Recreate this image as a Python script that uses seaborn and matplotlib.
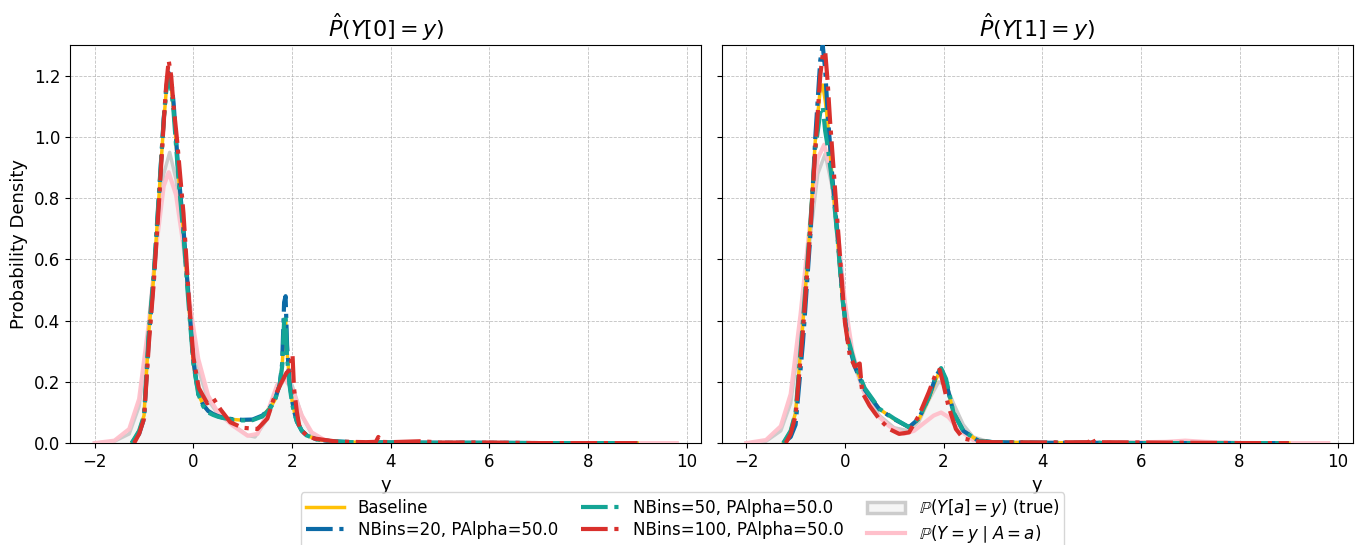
import matplotlib
matplotlib.use('Agg')
import matplotlib.pyplot as plt
from matplotlib.patches import Patch
import seaborn as sns

# ---- panel Y[0] ----
x0 = [-1.25, -1.1, -1.0, -0.9, -0.8, -0.7, -0.6, -0.55, -0.5, -0.45,
      -0.4, -0.3, -0.2, -0.1, 0.0, 0.1, 0.2, 0.3, 0.4, 0.5,
      0.6, 0.8, 1.0, 1.2, 1.4, 1.55, 1.65, 1.75, 1.8, 1.84,
      1.87, 1.9, 1.95, 2.0, 2.05, 2.1, 2.2, 2.3, 2.5, 2.8,
      3.2, 4.0, 5.0, 6.0, 7.0, 8.0, 9.0]
base0 = [0.0, 0.04, 0.09, 0.37, 0.55, 0.80, 1.05, 1.15, 1.20, 1.17,
         1.09, 0.87, 0.69, 0.47, 0.26, 0.16, 0.125, 0.105, 0.095, 0.088,
         0.083, 0.077, 0.075, 0.076, 0.088, 0.115, 0.14, 0.19, 0.25, 0.36,
         0.40, 0.30, 0.20, 0.14, 0.10, 0.07, 0.04, 0.025, 0.012, 0.006,
         0.003, 0.002, 0.001, 0.001, 0.0, 0.0, 0.0]
nb20_0 = [0.0, 0.03, 0.08, 0.35, 0.54, 0.80, 1.06, 1.16, 1.21, 1.19,
          1.11, 0.88, 0.70, 0.48, 0.27, 0.16, 0.125, 0.105, 0.095, 0.088,
          0.083, 0.078, 0.076, 0.077, 0.09, 0.115, 0.14, 0.19, 0.26, 0.46,
          0.48, 0.32, 0.20, 0.14, 0.10, 0.07, 0.04, 0.025, 0.012, 0.006,
          0.003, 0.002, 0.001, 0.001, 0.0, 0.0, 0.0]
nb50_0 = [0.0, 0.04, 0.09, 0.37, 0.56, 0.81, 1.06, 1.15, 1.19, 1.16,
          1.08, 0.86, 0.68, 0.46, 0.26, 0.16, 0.12, 0.10, 0.092, 0.086,
          0.082, 0.076, 0.074, 0.075, 0.087, 0.112, 0.138, 0.19, 0.25, 0.40,
          0.42, 0.28, 0.19, 0.13, 0.095, 0.07, 0.04, 0.025, 0.012, 0.006,
          0.003, 0.002, 0.001, 0.001, 0.0, 0.0, 0.0]
x0_nb100 = [-1.2, -1.1, -1.0, -0.9, -0.8, -0.7, -0.6, -0.55, -0.5, -0.45,
            -0.4, -0.33, -0.2, -0.09, 0.0, 0.11, 0.28, 0.41, 0.55, 0.75,
            1.0, 1.3, 1.5, 1.62, 1.76, 1.89, 1.96, 2.01, 2.04, 2.1,
            2.16, 2.3, 2.45, 2.9, 3.5, 3.7, 3.75, 3.8, 4.0, 4.6,
            5.0, 6.0, 7.0, 8.0, 9.0]
nb100_0 = [0.0, 0.03, 0.08, 0.33, 0.53, 0.78, 1.05, 1.17, 1.25, 1.20,
           1.10, 0.99, 0.75, 0.47, 0.28, 0.18, 0.13, 0.145, 0.11, 0.068,
           0.05, 0.046, 0.08, 0.14, 0.19, 0.23, 0.24, 0.29, 0.18, 0.10,
           0.046, 0.025, 0.015, 0.005, 0.003, 0.004, 0.02, 0.004, 0.003, 0.006,
           0.002, 0.002, 0.0, 0.0, 0.0]
x0_true = [-2.0, -1.6, -1.3, -1.1, -0.9, -0.75, -0.6, -0.48, -0.35, -0.2,
           -0.05, 0.1, 0.3, 0.5, 0.8, 1.1, 1.25, 1.5, 1.7, 1.85,
           2.0, 2.2, 2.4, 2.7, 3.0, 4.0, 6.0, 8.0, 9.8]
true0 = [0.0, 0.006, 0.03, 0.12, 0.38, 0.66, 0.88, 0.95, 0.86, 0.65,
         0.40, 0.24, 0.14, 0.095, 0.06, 0.025, 0.02, 0.08, 0.17, 0.21,
         0.19, 0.09, 0.03, 0.005, 0.001, 0.0, 0.0, 0.0, 0.0]
x0_cond = [-2.0, -1.6, -1.3, -1.1, -0.9, -0.75, -0.6, -0.5, -0.35, -0.2,
           -0.05, 0.1, 0.3, 0.5, 0.8, 1.1, 1.3, 1.5, 1.7, 1.85,
           2.0, 2.2, 2.4, 2.7, 3.0, 4.0, 6.0, 8.0, 9.8]
cond0 = [0.0, 0.008, 0.046, 0.144, 0.395, 0.645, 0.84, 0.885, 0.81, 0.645,
         0.43, 0.275, 0.155, 0.10, 0.057, 0.024, 0.03, 0.10, 0.19, 0.21,
         0.177, 0.09, 0.035, 0.006, 0.001, 0.0, 0.0, 0.0, 0.0]

# ---- panel Y[1] ----
x1 = [-1.25, -1.1, -1.0, -0.85, -0.7, -0.6, -0.5, -0.45, -0.4, -0.35,
      -0.25, -0.15, -0.05, 0.05, 0.2, 0.4, 0.7, 1.0, 1.3, 1.5,
      1.7, 1.85, 1.95, 2.05, 2.2, 2.4, 2.7, 3.0, 4.0, 5.0,
      6.0, 7.0, 8.0, 9.0]
base1 = [0.0, 0.04, 0.10, 0.395, 0.72, 0.99, 1.157, 1.17, 1.12, 1.05,
         0.85, 0.667, 0.47, 0.34, 0.253, 0.177, 0.111, 0.078, 0.051, 0.078,
         0.144, 0.21, 0.242, 0.2, 0.10, 0.04, 0.008, 0.003, 0.001, 0.001,
         0.0, 0.0, 0.0, 0.0]
nb20_1 = [0.0, 0.02, 0.06, 0.33, 0.68, 1.0, 1.25, 1.30, 1.22, 1.08,
          0.86, 0.68, 0.48, 0.34, 0.25, 0.175, 0.11, 0.078, 0.052, 0.08,
          0.15, 0.22, 0.245, 0.2, 0.10, 0.04, 0.008, 0.003, 0.001, 0.001,
          0.0, 0.0, 0.0, 0.0]
nb50_1 = [0.0, 0.04, 0.10, 0.40, 0.72, 0.96, 1.08, 1.10, 1.02, 0.97,
          0.84, 0.67, 0.47, 0.35, 0.26, 0.18, 0.112, 0.08, 0.052, 0.08,
          0.15, 0.22, 0.245, 0.21, 0.10, 0.04, 0.008, 0.003, 0.001, 0.001,
          0.0, 0.0, 0.0, 0.0]
x1_nb100 = [-1.2, -1.1, -1.0, -0.85, -0.7, -0.6, -0.5, -0.45, -0.4, -0.35,
            -0.3, -0.2, -0.1, 0.0, 0.1, 0.2, 0.3, 0.35, 0.5, 0.7,
            0.9, 1.1, 1.3, 1.5, 1.7, 1.85, 1.92, 2.0, 2.1, 2.25,
            2.4, 2.7, 3.0, 4.0, 4.95, 5.0, 5.05, 6.0, 7.0, 8.0, 9.0]
nb100_1 = [0.0, 0.03, 0.09, 0.37, 0.70, 0.96, 1.20, 1.27, 1.28, 1.18,
           1.05, 0.83, 0.61, 0.395, 0.285, 0.25, 0.26, 0.166, 0.122, 0.078,
           0.046, 0.03, 0.035, 0.09, 0.166, 0.23, 0.24, 0.19, 0.12, 0.046,
           0.015, 0.005, 0.003, 0.002, 0.003, 0.02, 0.003, 0.002, 0.001, 0.0, 0.0]
x1_true = [-2.0, -1.6, -1.3, -1.1, -0.9, -0.7, -0.55, -0.4, -0.25, -0.1,
           0.05, 0.2, 0.4, 0.7, 1.0, 1.3, 1.5, 1.7, 1.9, 2.05,
           2.2, 2.4, 2.6, 2.9, 3.5, 5.0, 6.5, 7.0, 7.5, 9.8]
true1 = [0.0, 0.006, 0.04, 0.13, 0.37, 0.68, 0.88, 0.945, 0.83, 0.6,
         0.38, 0.25, 0.16, 0.09, 0.05, 0.04, 0.07, 0.14, 0.2, 0.19,
         0.13, 0.06, 0.02, 0.005, 0.001, 0.0, 0.002, 0.004, 0.002, 0.0]
x1_cond = [-2.0, -1.6, -1.3, -1.1, -0.9, -0.7, -0.55, -0.42, -0.3, -0.15,
           0.0, 0.15, 0.35, 0.6, 0.9, 1.2, 1.4, 1.6, 1.8, 1.95,
           2.1, 2.3, 2.6, 3.0, 5.0, 6.5, 6.9, 7.3, 8.0, 9.8]
cond1 = [0.0, 0.01, 0.055, 0.16, 0.42, 0.73, 0.93, 0.975, 0.9, 0.7,
         0.46, 0.3, 0.18, 0.1, 0.055, 0.03, 0.04, 0.065, 0.09, 0.1,
         0.085, 0.045, 0.01, 0.002, 0.0, 0.004, 0.008, 0.004, 0.0, 0.0]

titles = [r'$\hat{P}(Y[0] = y)$', r'$\hat{P}(Y[1] = y)$']
est_labels = ['Baseline', 'NBins=20, PAlpha=50.0',
              'NBins=50, PAlpha=50.0', 'NBins=100, PAlpha=50.0']
est_colors = ['#FFC107', '#0B6AA6', '#14A595', '#D9302C']
est_styles = ['-', '-.', '-.', '-.']
true_label = r'$\mathbb{P}(Y[a] = y)$ (true)'
cond_label = r'$\mathbb{P}(Y = y \mid A = a)$'

panels = [
    dict(true=(x0_true, true0), cond=(x0_cond, cond0),
         est=[(x0, base0), (x0, nb20_0), (x0, nb50_0), (x0_nb100, nb100_0)]),
    dict(true=(x1_true, true1), cond=(x1_cond, cond1),
         est=[(x1, base1), (x1, nb20_1), (x1, nb50_1), (x1_nb100, nb100_1)]),
]

fig, axes = plt.subplots(1, 2, figsize=(13.68, 5.45), dpi=100, sharey=True)
fig.subplots_adjust(left=0.0512, right=0.989, bottom=0.187, top=0.917, wspace=0.032)

for ax, p, title in zip(axes, panels, titles):
    tx, ty = p['true']
    ax.fill_between(tx, ty, color='#f5f5f5', lw=0, zorder=1)
    sns.lineplot(x=tx, y=ty, ax=ax, color='#cccccc', lw=2.5, zorder=2)
    cx, cy = p['cond']
    sns.lineplot(x=cx, y=cy, ax=ax, color='#FFC0CB', lw=3, alpha=0.95, zorder=3)
    for (ex, ey), lab, col, ls in zip(p['est'], est_labels, est_colors, est_styles):
        sns.lineplot(x=ex, y=ey, ax=ax, color=col, lw=3 if ls == '-.' else 2.5,
                     linestyle=ls, label=lab, zorder=4)
    ax.set_xlim(-2.5, 10.3)
    ax.set_ylim(0, 1.3)
    ax.set_title(title, fontsize=16)
    ax.set_xlabel('y', fontsize=13)
    ax.grid(True, linestyle='--', lw=0.6, color='#b0b0b0', alpha=0.8)
    ax.set_axisbelow(True)
    ax.tick_params(labelsize=12)
    ax.get_legend().remove()

axes[0].set_ylabel('Probability Density', fontsize=13)
axes[1].set_ylabel('')

handles, labels = axes[0].get_legend_handles_labels()
handles = handles + [Patch(facecolor='#f5f5f5', edgecolor='#cccccc', lw=2.5),
                     plt.Line2D([], [], color='#FFC0CB', lw=3)]
labels = labels + [true_label, cond_label]
fig.legend(handles, labels, loc='upper center', bbox_to_anchor=(0.499, 0.106),
           ncol=3, fontsize=12, handlelength=2.3, columnspacing=1.4,
           labelspacing=0.2, borderaxespad=0.3, borderpad=0.3)

fig.savefig('out.png', dpi=100)
